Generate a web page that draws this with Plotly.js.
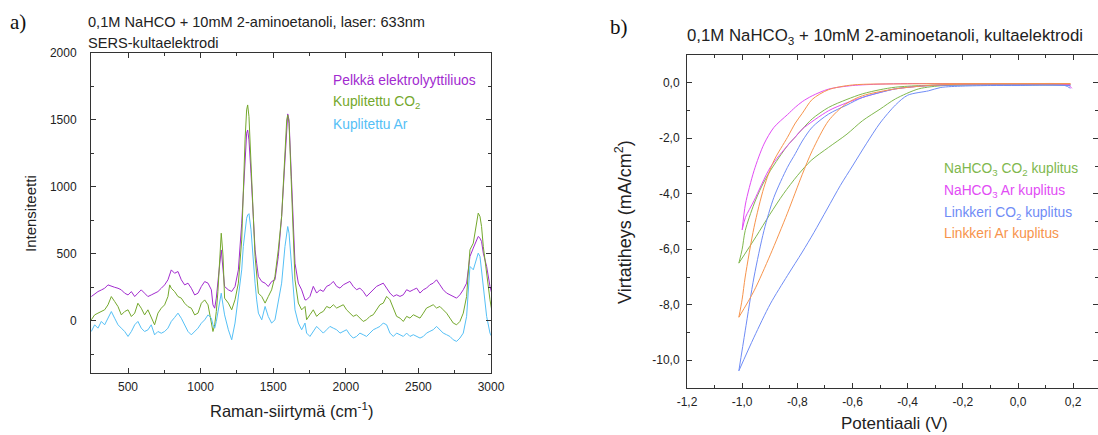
<!DOCTYPE html>
<html><head><meta charset="utf-8">
<script src="https://cdn.plot.ly/plotly-3.0.1.min.js"></script>
<style>html,body{margin:0;padding:0;background:#fff;} #chart{width:1098px;height:435px;}</style>
</head><body><div id="chart"></div>
<script>
// ---- Panel a) Raman spectra ----
const ramanShift = [247,270,293,316,339,362,385,408,431,454,477,500,523,546,568,591,614,637,660,683,706,729,752,775,787,798,821,844,867,890,913,936,959,982,1005,1028,1051,1074,1085,1097,1108,1119,1131,1142,1154,1165,
 1191,1214,1237,1260,1283,1294,1306,1317,1324,1333,1347,1363,1375,1386,1398,1421,1444,1466,1489,1512,1535,1558,1581,1593,1600,1609,1623,1639,1650,1673,1696,1719,
 1730,1753,1776,1799,1822,1845,1868,1891,1914,1937,1960,1983,2005,2028,2051,2074,2097,2120,2143,2166,2189,2212,2235,2258,2281,2304,2327,2350,2373,2396,2419,2442,2465,2488,2511,2534,2556,2579,2602,2625,2648,2671,2694,2717,2740,2763,2786,2809,2832,2843,2855,2878,2901,2912,2924,2935,2947,2970,2993,3016];
const pelkkaElektrolyytti = [181,200,218,230,243,268,256,250,243,231,206,193,218,181,206,231,206,181,193,206,218,243,268,306,343,380,355,368,306,268,281,243,193,206,256,293,281,231,119,94,169,268,417,529,368,256,
 231,219,256,380,729,978,1226,1401,1425,1351,1102,729,530,430,331,293,281,256,293,306,480,779,1226,1500,1545,1500,1102,654,430,281,231,156,
 157,182,257,207,232,219,257,269,294,257,244,269,281,294,257,232,244,219,182,207,232,257,269,281,244,207,182,194,182,194,232,219,232,244,207,232,244,269,281,306,269,232,207,194,182,169,194,232,281,381,480,543,605,630,617,592,505,406,257,157];
const kuplitettuCO2 = [7,44,57,69,82,119,181,144,106,44,69,82,32,57,131,94,44,82,19,-30,57,94,119,181,268,243,218,181,169,131,106,94,44,57,131,156,119,-5,-80,-30,69,218,467,654,492,169,
 132,82,157,281,604,978,1351,1575,1612,1525,1226,779,480,331,206,181,132,181,231,331,530,779,1276,1500,1537,1475,1077,604,306,132,82,107,
 8,45,82,33,57,70,107,95,120,95,107,120,82,57,33,45,20,-5,8,33,45,82,120,132,182,157,95,33,20,-5,33,20,45,33,20,57,95,107,120,95,107,82,57,20,-17,-30,-5,57,182,356,530,580,729,804,779,704,555,356,157,8];
const kuplitettuAr = [-80,-30,-55,-5,-30,19,69,19,-30,-55,-80,-117,-80,-30,-5,-55,-80,-68,-30,-105,-80,-93,-80,-55,-30,-5,25,57,19,-30,-80,-105,-80,-55,-18,7,44,19,-30,-55,-5,69,144,206,119,44,
 -67,-142,-17,181,380,555,679,766,790,800,680,430,281,156,57,7,107,32,-17,7,132,281,555,679,704,654,480,231,82,-17,-67,-17,
 -92,-117,-79,-42,-67,-92,-67,-42,-55,-67,-92,-79,-67,-104,-129,-117,-92,-104,-117,-92,-67,-55,-42,-17,-30,-92,-117,-92,-104,-117,-92,-117,-104,-117,-129,-117,-92,-79,-67,-42,-67,-92,-104,-117,-142,-154,-129,-92,33,232,406,381,455,505,480,381,232,33,-92,-142];
const ramanXTicks = [500,1000,1500,2000,2500,3000];
const ramanYTicks = [0,500,1000,1500,2000];

// ---- Panel b) cyclic voltammograms (each: sweep to -1.0 V and back) ----
const nahco3CO2_V = [0.19,0.1,0.0,-0.1,-0.2,-0.27,-0.36,-0.444,-0.5,-0.564,-0.62,-0.687,-0.75,-0.8,-0.85,-0.9,-0.95,-1.012,
  -1.0,-0.989,-0.957,-0.93,-0.898,-0.836,-0.807,-0.782,-0.746,-0.687,-0.62,-0.564,-0.5,-0.444,-0.35,-0.2,0.0,0.19];
const nahco3CO2_I = [-0.08,-0.08,-0.08,-0.08,-0.08,-0.1,-0.22,-0.58,-0.95,-1.37,-1.85,-2.33,-2.8,-3.35,-4.0,-4.75,-5.55,-6.5,
  -6.0,-5.33,-4.37,-3.75,-3.17,-2.27,-1.95,-1.67,-1.3,-0.89,-0.6,-0.4,-0.25,-0.16,-0.1,-0.07,-0.06,-0.06];
const nahco3Ar_V = [0.195,0.18,0.0,-0.2,-0.4,-0.5,-0.6,-0.687,-0.746,-0.782,-0.807,-0.836,-0.885,-0.921,-0.957,-0.988,-1.0,
  -0.988,-0.957,-0.898,-0.836,-0.807,-0.782,-0.687,-0.62,-0.564,-0.5,-0.444,-0.324,-0.2,0.0,0.19];
const nahco3Ar_I = [-0.2,-0.07,-0.04,-0.03,-0.03,-0.05,-0.1,-0.23,-0.47,-0.68,-0.88,-1.15,-1.61,-2.21,-3.17,-4.37,-5.3,
  -4.85,-4.25,-3.05,-2.27,-1.95,-1.67,-1.01,-0.72,-0.53,-0.35,-0.22,-0.1,-0.06,-0.05,-0.06];
const linkkeriCO2_V = [0.19,0.17,0.0,-0.1,-0.2,-0.28,-0.324,-0.4,-0.444,-0.5,-0.55,-0.6,-0.644,-0.692,-0.74,-0.782,-0.836,-0.898,-0.957,-1.012,
  -0.989,-0.957,-0.921,-0.885,-0.836,-0.807,-0.782,-0.746,-0.687,-0.62,-0.564,-0.5,-0.444,-0.35,-0.2,0.0,0.19];
const linkkeriCO2_I = [-0.2,-0.1,-0.1,-0.1,-0.12,-0.17,-0.29,-0.45,-0.8,-1.45,-2.2,-3.0,-3.7,-4.55,-5.4,-6.1,-6.95,-7.97,-9.17,-10.38,
  -8.94,-7.0,-5.33,-4.13,-3.05,-2.55,-2.1,-1.6,-1.13,-0.8,-0.53,-0.35,-0.22,-0.12,-0.08,-0.07,-0.1];
const linkkeriAr_V = [0.19,0.0,-0.2,-0.324,-0.444,-0.564,-0.625,-0.687,-0.746,-0.782,-0.836,-0.898,-0.957,-1.012,
  -1.0,-0.989,-0.957,-0.921,-0.885,-0.836,-0.807,-0.782,-0.746,-0.687,-0.6,-0.4,0.0,0.19];
const linkkeriAr_I = [-0.04,-0.04,-0.05,-0.1,-0.22,-0.47,-0.77,-1.37,-2.45,-3.3,-4.7,-6.2,-7.5,-8.45,
  -7.8,-7.0,-5.21,-3.77,-2.81,-1.97,-1.45,-1.1,-0.6,-0.25,-0.08,-0.04,-0.03,-0.03];
const cvXTicks = [-1.2,-1.0,-0.8,-0.6,-0.4,-0.2,0.0,0.2];
const cvXTickLabels = ['-1,2','-1,0','-0,8','-0,6','-0,4','-0,2','0,0','0,2'];
const cvYTicks = [-10,-8,-6,-4,-2,0];
const cvYTickLabels = ['-10,0','-8,0','-6,0','-4,0','-2,0','0,0'];

const C = {purple:'#a22bcf', green:'#74a82c', lblue:'#55c0f6',
           cvGreen:'#80b84e', cvMagenta:'#e24cf5', cvBlue:'#6f8cf6', cvOrange:'#f7944c'};

function ln(x,y,color,xa,ya,shape){return {x:x,y:y,type:'scatter',mode:'lines',xaxis:xa,yaxis:ya,
  line:{color:color,width:1,shape:shape||'linear',smoothing:0.8},hoverinfo:'skip'};}
// split a CV loop at its turning point so the vertex stays sharp while branches are smooth
function cvBranches(V,I,color){
  let k=0; for(let i=1;i<V.length;i++){ if(V[i]<V[k]) k=i; }
  return [ln(V.slice(0,k+1),I.slice(0,k+1),color,'x2','y2','spline'),
          ln(V.slice(k),I.slice(k),color,'x2','y2','spline')];
}

const traces = [
  ln(ramanShift,pelkkaElektrolyytti,C.purple,'x','y'),
  ln(ramanShift,kuplitettuCO2,C.green,'x','y'),
  ln(ramanShift,kuplitettuAr,C.lblue,'x','y'),
  ...cvBranches(nahco3CO2_V,nahco3CO2_I,C.cvGreen),
  ...cvBranches(nahco3Ar_V,nahco3Ar_I,C.cvMagenta),
  ...cvBranches(linkkeriCO2_V,linkkeriCO2_I,C.cvBlue),
  ...cvBranches(linkkeriAr_V,linkkeriAr_I,C.cvOrange)
];

const W=1098,H=435;
const px=v=>v/W, py=v=>1-v/H;
const axBase = {showline:true,linecolor:'#333',linewidth:1,mirror:'allticks',ticks:'inside',ticklen:5,tickwidth:1,tickcolor:'#333',
  showgrid:false,zeroline:false,tickfont:{size:12,color:'#222'}};

function ann(text,x,y,opts){return Object.assign({text:text,x:px(x),y:py(y),xref:'paper',yref:'paper',showarrow:false,
  xanchor:'left',yanchor:'middle',font:{size:14,color:'#222'}},opts||{});}

const annotations = [
  ann('a)',8,22,{font:{family:'Liberation Serif, Times New Roman, serif',size:21,color:'#111'}}),
  ann('b)',608,27,{font:{family:'Liberation Serif, Times New Roman, serif',size:21,color:'#111'}}),
  ann('0,1M NaHCO + 10mM 2-aminoetanoli, laser: 633nm',86,22,{font:{size:14.6,color:'#222'}}),
  ann('SERS-kultaelektrodi',86,43,{font:{size:14.6,color:'#222'}}),
  ann('0,1M NaHCO<sub>3</sub> + 10mM 2-aminoetanoli, kultaelektrodi',685,37,{font:{size:16.8,color:'#222'}}),
  ann('Intensiteetti',30,214,{xanchor:'center',textangle:-90,font:{size:15,color:'#222'}}),
  ann('Raman-siirtymä (cm<sup>-1</sup>)',291,410,{xanchor:'center',font:{size:16.5,color:'#222'}}),
  ann('Virtatiheys (mA/cm<sup>2</sup>)',623,222,{xanchor:'center',textangle:-90,font:{size:18,color:'#222'}}),
  ann('Potentiaali (V)',894,423,{xanchor:'center',font:{size:17,color:'#222'}}),
  ann('Pelkkä elektrolyyttiliuos',331,80,{font:{size:13.8,color:C.purple}}),
  ann('Kuplitettu CO<sub>2</sub>',331,102,{font:{size:13.8,color:C.green}}),
  ann('Kuplitettu Ar',331,124,{font:{size:13.8,color:C.lblue}}),
  ann('NaHCO<sub>3</sub> CO<sub>2</sub> kuplitus',942,169,{font:{size:13.8,color:C.cvGreen}}),
  ann('NaHCO<sub>3</sub> Ar kuplitus',942,191,{font:{size:13.8,color:C.cvMagenta}}),
  ann('Linkkeri CO<sub>2</sub> kuplitus',942,213,{font:{size:13.8,color:C.cvBlue}}),
  ann('Linkkeri Ar kuplitus',942,234,{font:{size:13.8,color:C.cvOrange}})
];

const layout = {
  width:W,height:H,margin:{l:0,r:0,t:0,b:0},paper_bgcolor:'#fff',plot_bgcolor:'#fff',showlegend:false,
  font:{family:'Liberation Sans, Arial, sans-serif',size:12,color:'#222'},
  xaxis:Object.assign({},axBase,{domain:[px(91),px(491)],range:[245,3000],anchor:'y',tickvals:ramanXTicks,ticklabelstandoff:3,
     minor:{ticks:'inside',ticklen:3,dtick:250,tick0:0,tickcolor:'#333'}}),
  yaxis:Object.assign({},axBase,{domain:[py(373),py(53)],range:[-390,2000],anchor:'x',tickvals:ramanYTicks,ticklabelstandoff:11,
     minor:{ticks:'inside',ticklen:3,dtick:250,tick0:0,tickcolor:'#333'}}),
  xaxis2:Object.assign({},axBase,{domain:[px(687),1],range:[-1.2,0.29],anchor:'y2',tickvals:cvXTicks,ticktext:cvXTickLabels,ticklabelstandoff:3,
     minor:{ticks:'inside',ticklen:3,dtick:0.1,tick0:0,tickcolor:'#333'}}),
  yaxis2:Object.assign({},axBase,{domain:[py(388),py(55)],range:[-11,1],anchor:'x2',tickvals:cvYTicks,ticktext:cvYTickLabels,ticklabelstandoff:4,
     minor:{ticks:'inside',ticklen:3,dtick:1,tick0:0,tickcolor:'#333'}}),
  annotations:annotations
};
Plotly.newPlot('chart',traces,layout,{staticPlot:true,displayModeBar:false});
</script>
</body></html>
